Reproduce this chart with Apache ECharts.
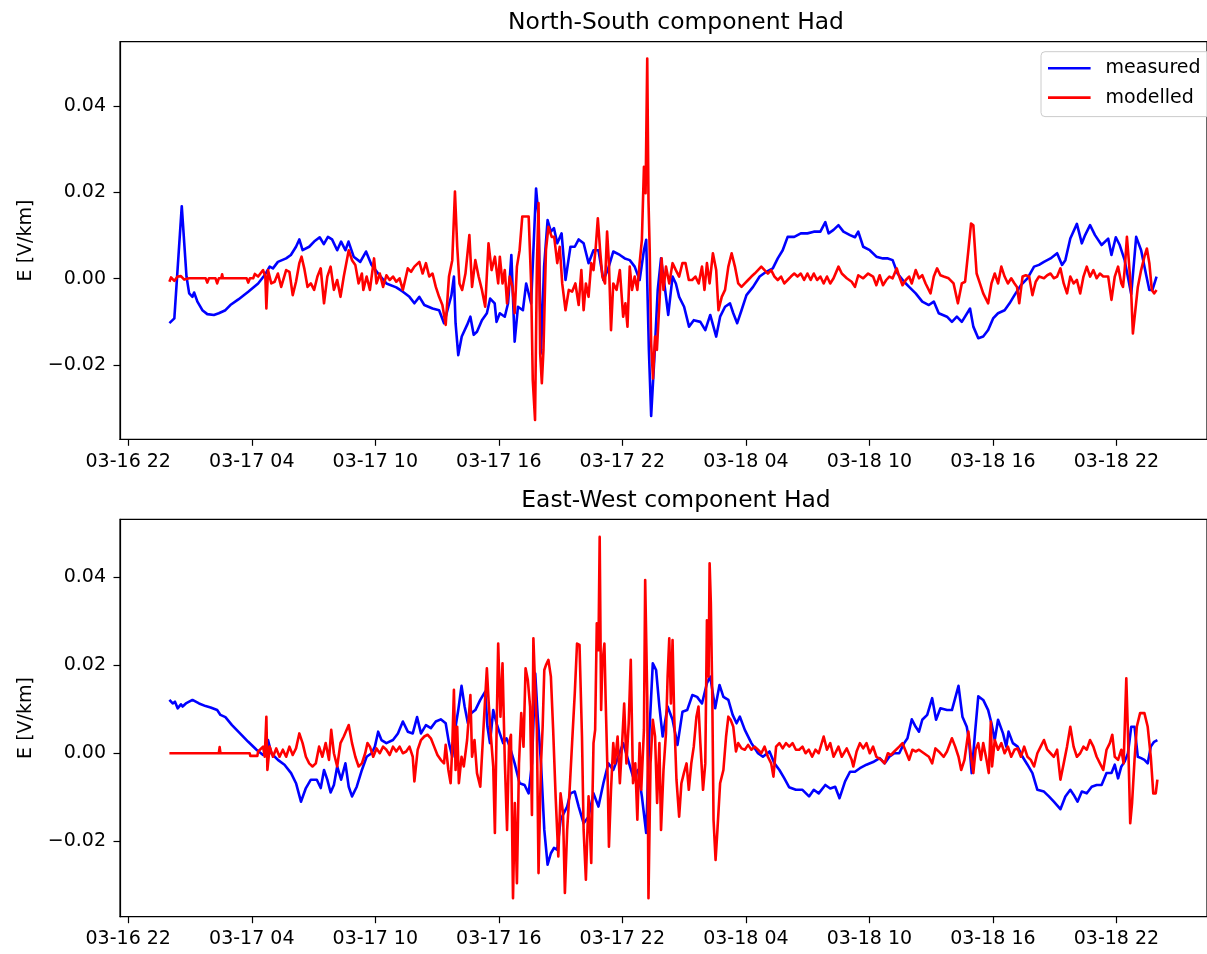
<!DOCTYPE html>
<html>
<head>
<meta charset="utf-8">
<script src="https://cdn.jsdelivr.net/npm/echarts@6/dist/echarts.min.js"></script>
<style>html,body{margin:0;padding:0;background:#fff}#c{width:1207px;height:954px}</style>
</head>
<body>
<div id="c"></div>
<script>
// time = hours since 03-17 00:00, values in mV/km
const xTickHours = [-2, 4, 10, 16, 22, 28, 34, 40, 46];
const xTickLabels = ['03-16 22','03-17 04','03-17 10','03-17 16','03-17 22','03-18 04','03-18 10','03-18 16','03-18 22'];
const yTicks = [-0.02, 0, 0.02, 0.04];

const nsMeasured = [[0,-10.3],[0.24,-9.2],[0.32,-9.0],[0.6,16.8],[0.83,0.5],[0.96,-3.4],[1.12,-4.2],[1.2,-3.2],[1.36,-5.3],[1.6,-7.3],[1.84,-8.2],[2.16,-8.4],[2.4,-8.0],[2.72,-7.3],[2.96,-6.1],[3.35,-4.8],[3.83,-3.0],[4.31,-1.1],[4.63,0.85],[4.87,2.8],[5.03,2.4],[5.27,3.9],[5.67,4.7],[5.9,5.5],[6.15,7.4],[6.31,9.1],[6.47,6.6],[6.79,7.4],[7.03,8.6],[7.3,9.6],[7.5,8.0],[7.7,9.7],[7.9,9.1],[8.15,6.6],[8.34,8.6],[8.55,6.6],[8.7,8.6],[8.95,5.1],[9.27,3.9],[9.55,6.3],[9.82,3.2],[10.14,1.2],[10.54,-1.1],[11.02,-2.0],[11.34,-3.0],[11.66,-4.2],[11.9,-5.7],[12.14,-4.2],[12.38,-6.1],[12.78,-6.9],[13.1,-7.3],[13.34,-10.3],[13.55,-6.5],[13.7,-3.8],[13.82,0.5],[13.9,-10.3],[14.03,-17.7],[14.2,-13.4],[14.46,-10.7],[14.62,-8.8],[14.78,-13.0],[14.94,-12.3],[15.18,-9.6],[15.42,-8.0],[15.58,-4.6],[15.8,-5.7],[15.89,-10],[16.05,-8.0],[16.29,-8.8],[16.45,-5.7],[16.61,5.5],[16.77,-14.6],[16.93,-6.5],[17.17,-7.3],[17.33,-1.1],[17.57,-5.7],[17.81,20.9],[17.93,14.4],[18.05,-17.3],[18.2,2.8],[18.37,13.6],[18.53,10.9],[18.68,11.7],[18.84,8.2],[19.05,10.5],[19.24,-0.3],[19.48,7.4],[19.69,7.4],[19.88,9.1],[20.12,8.2],[20.36,3.6],[20.6,6.6],[20.84,6.6],[21.08,-0.3],[21.29,2.0],[21.56,6.3],[21.88,5.5],[22.12,4.7],[22.36,4.3],[22.6,2.8],[22.84,-0.3],[23.05,6.6],[23.16,9.0],[23.29,-16.5],[23.4,-31.8],[23.56,-18],[23.72,-2.6],[23.88,4.7],[24.04,-1.1],[24.23,-8.4],[24.44,0.5],[24.6,-1.1],[24.76,-4.2],[25.0,-6.5],[25.24,-11.1],[25.47,-9.6],[25.79,-10],[26.03,-11.9],[26.27,-8.4],[26.56,-13.4],[26.75,-8.8],[26.99,-6.5],[27.23,-5.7],[27.39,-8.0],[27.58,-10.3],[27.79,-7.3],[28.03,-3.8],[28.35,-1.9],[28.67,0.5],[28.99,1.6],[29.31,2.4],[29.55,4.7],[29.79,6.6],[30.03,9.7],[30.35,9.7],[30.67,10.5],[30.99,10.5],[31.3,10.9],[31.62,10.9],[31.86,13.1],[32.02,10.5],[32.26,11.3],[32.5,12.4],[32.74,10.9],[33.06,10.1],[33.3,9.6],[33.46,10.9],[33.7,7.4],[34.02,6.6],[34.34,5.1],[34.66,4.7],[34.9,4.7],[35.13,4.3],[35.37,1.2],[35.69,-0.7],[35.93,-1.9],[36.25,-3.4],[36.57,-5.3],[36.89,-6.1],[37.13,-5.3],[37.37,-8.0],[37.77,-8.8],[38.01,-10.0],[38.25,-8.8],[38.49,-10.0],[38.89,-6.9],[39.05,-11.1],[39.29,-13.8],[39.53,-13.4],[39.77,-11.9],[40.01,-9.2],[40.25,-8.0],[40.57,-7.3],[40.81,-5.7],[41.05,-3.8],[41.36,-1.5],[41.68,0.1],[42.0,2.8],[42.24,3.2],[42.48,3.9],[42.8,4.7],[43.12,5.9],[43.36,3.2],[43.52,4.3],[43.76,9.3],[44.08,12.7],[44.32,8.2],[44.48,10.1],[44.72,12.4],[44.96,10.1],[45.28,7.8],[45.6,9.3],[45.76,5.5],[45.97,9.6],[46.16,7.8],[46.4,4.3],[46.72,-3.6],[46.96,9.7],[47.2,6.6],[47.44,1.0],[47.6,-2.6],[47.75,-2.6],[47.95,0.5]];

const nsModelled = [[0,-0.7],[0.08,0.3],[0.24,-0.5],[0.4,0.5],[0.56,0.6],[0.72,-0.2],[0.96,0.1],[1.76,0.1],[1.84,-0.9],[1.92,0.1],[2.24,0.1],[2.32,-1.1],[2.4,0.1],[2.52,0.1],[2.56,1.0],[2.6,0.1],[3.75,0.1],[3.83,-0.9],[3.91,0.1],[4.07,0.1],[4.15,1.1],[4.31,0.5],[4.55,2.0],[4.66,0.5],[4.71,-6.9],[4.79,2.0],[4.95,-1.1],[5.11,-0.7],[5.27,1.2],[5.43,-1.9],[5.67,2.0],[5.83,1.6],[5.99,-3.8],[6.15,-0.7],[6.31,3.6],[6.42,5.1],[6.55,2.4],[6.71,-1.9],[6.87,-1.1],[7.03,-2.6],[7.19,0.5],[7.35,2.4],[7.51,-5.7],[7.67,0.5],[7.83,2.8],[7.99,-2.6],[8.15,-0.3],[8.31,-4.2],[8.47,0.5],[8.71,6.6],[8.87,4.3],[9.03,3.2],[9.19,-1.1],[9.35,1.2],[9.42,-2.6],[9.58,0.5],[9.74,-2.6],[9.94,4.7],[10.06,-1.1],[10.22,1.2],[10.38,-1.9],[10.54,0.8],[10.7,-0.3],[10.86,0.5],[11.02,-0.7],[11.18,0.1],[11.34,-2.6],[11.58,2.4],[11.74,1.6],[11.9,2.8],[12.14,3.9],[12.3,1.2],[12.46,3.6],[12.62,0.5],[12.78,1.2],[12.94,-1.9],[13.1,-4.2],[13.26,-6.1],[13.42,-10.7],[13.58,0.5],[13.74,4.3],[13.87,20.2],[13.98,7.4],[14.09,-1.1],[14.22,-2.6],[14.38,1.2],[14.57,10.1],[14.7,-1.9],[14.86,4.3],[15.02,0.5],[15.18,-2.6],[15.34,-6.5],[15.5,8.2],[15.65,2.0],[15.81,5.1],[15.97,-1.1],[16.05,5.1],[16.18,-1.1],[16.29,2.0],[16.4,-5.7],[16.53,0.5],[16.66,-1.9],[16.77,-8.0],[16.88,2.8],[17.01,6.6],[17.14,14.4],[17.45,14.4],[17.57,-1.1],[17.65,-23.5],[17.76,-32.7],[17.85,2.8],[17.93,17.5],[18.01,-17.3],[18.09,-24.2],[18.17,-16.5],[18.29,6.6],[18.41,12.0],[18.57,9.7],[18.69,9.7],[18.84,3.6],[18.96,7.4],[19.08,-1.1],[19.24,-7.3],[19.4,-2.6],[19.56,-3.0],[19.72,-1.1],[19.88,-6.1],[20.01,2.0],[20.12,-7.3],[20.23,-1.1],[20.36,-4.2],[20.49,3.6],[20.6,2.0],[20.71,7.4],[20.81,14.0],[20.92,6.6],[21.03,0.5],[21.16,-1.1],[21.26,10.9],[21.35,3.6],[21.45,-11.9],[21.56,-1.1],[21.72,-2.6],[21.88,2.0],[22.04,-8.8],[22.15,-5.7],[22.25,-11.1],[22.36,2.8],[22.47,-2.6],[22.6,0.5],[22.73,-2.6],[22.84,3.6],[22.95,9.0],[23.05,25.9],[23.13,19.8],[23.21,51.0],[23.27,18.2],[23.33,6.6],[23.4,-15.0],[23.49,-23.1],[23.59,-13.4],[23.68,-16.5],[23.8,-5.7],[23.91,4.7],[24.0,-2.6],[24.12,2.8],[24.28,-1.1],[24.44,3.6],[24.6,2.0],[24.76,0.5],[24.92,3.6],[25.07,3.6],[25.23,-0.3],[25.39,-0.3],[25.55,0.5],[25.71,-1.1],[25.87,2.8],[25.99,-2.6],[26.11,3.6],[26.24,-1.1],[26.4,5.9],[26.56,2.0],[26.67,-7.3],[26.83,-4.2],[26.99,-2.6],[27.15,2.8],[27.31,5.9],[27.47,2.8],[27.63,-1.1],[27.79,-1.9],[27.95,-1.1],[28.11,-0.3],[28.27,0.5],[28.43,1.2],[28.59,2.0],[28.75,2.8],[28.91,2.0],[29.07,1.2],[29.23,2.0],[29.39,0.5],[29.55,-0.3],[29.71,0.5],[29.87,-1.1],[30.03,-0.3],[30.19,0.5],[30.35,1.2],[30.51,0.5],[30.67,1.2],[30.83,-0.3],[30.99,1.2],[31.15,-0.3],[31.3,1.2],[31.46,-0.3],[31.62,0.5],[31.78,-1.1],[31.94,0.5],[32.1,-1.1],[32.26,0.1],[32.5,2.8],[32.66,1.2],[32.9,0.1],[33.14,-0.7],[33.3,-1.9],[33.46,0.8],[33.7,0.1],[33.94,1.2],[34.18,0.5],[34.34,-1.5],[34.5,0.8],[34.66,-1.5],[34.82,-0.3],[34.97,0.5],[35.13,0.1],[35.33,2.4],[35.45,0.5],[35.61,-1.5],[35.77,-0.3],[35.93,0.5],[36.06,-1.1],[36.25,2.0],[36.41,0.1],[36.57,0.8],[36.73,-1.1],[36.97,-3.4],[37.13,0.5],[37.29,2.4],[37.45,0.8],[37.61,0.5],[37.85,0.1],[38.09,-1.1],[38.3,-5.7],[38.49,-1.1],[38.65,-0.7],[38.81,6.6],[38.94,12.8],[39.05,12.4],[39.21,1.2],[39.37,-1.1],[39.53,-3.4],[39.77,-5.7],[39.93,-1.1],[40.09,1.2],[40.25,-1.1],[40.41,2.8],[40.57,0.5],[40.73,-1.1],[40.89,0.1],[41.05,-1.1],[41.17,-1.9],[41.28,-5.7],[41.44,0.5],[41.6,0.8],[41.76,0.5],[41.92,-3.8],[42.08,-0.7],[42.24,0.5],[42.48,0.1],[42.64,0.8],[42.8,1.2],[42.96,0.1],[43.12,0.5],[43.28,2.4],[43.44,-1.1],[43.6,-3.4],[43.76,0.5],[43.92,-1.1],[44.08,-0.3],[44.24,-3.4],[44.4,0.5],[44.56,2.8],[44.72,0.5],[44.88,2.0],[45.04,0.1],[45.2,1.2],[45.36,0.5],[45.6,0.5],[45.76,-4.9],[45.92,0.5],[46.08,2.8],[46.24,-1.1],[46.32,-1.9],[46.4,2.0],[46.51,9.7],[46.6,4.3],[46.72,-3.4],[46.8,-12.7],[46.92,-7.3],[47.04,-1.9],[47.2,2.0],[47.36,5.1],[47.48,7.0],[47.6,3.6],[47.72,-2.6],[47.83,-3.4],[47.95,-2.6]];

const ewMeasured = [[0,12.1],[0.16,11.3],[0.27,11.7],[0.4,10.2],[0.56,11.1],[0.64,10.6],[0.8,11.3],[1.12,12.1],[1.44,11.3],[1.76,10.7],[2.0,10.4],[2.32,9.8],[2.48,8.7],[2.72,8.2],[3.04,6.4],[3.43,4.5],[3.83,2.6],[4.23,0.8],[4.55,-0.4],[4.71,0.3],[4.79,3.0],[4.95,0.0],[5.27,-1.5],[5.59,-2.6],[5.91,-4.5],[6.15,-6.8],[6.39,-11.0],[6.63,-7.9],[6.87,-6.0],[7.16,-6.0],[7.35,-7.9],[7.51,-3.8],[7.67,-6.0],[7.83,-8.9],[7.99,-7.2],[8.15,-3.0],[8.34,-6.0],[8.55,-2.3],[8.71,-7.6],[8.87,-9.8],[9.1,-7.6],[9.35,-3.8],[9.58,-0.8],[9.82,0],[9.98,1.5],[10.14,4.9],[10.3,3.0],[10.54,2.3],[10.86,3.0],[11.1,4.5],[11.34,7.2],[11.58,4.9],[11.82,4.5],[12.03,8.2],[12.22,4.5],[12.46,6.4],[12.7,5.7],[12.94,7.2],[13.18,7.7],[13.42,6.8],[13.58,2.3],[13.74,-0.8],[13.9,6.0],[14.03,9.8],[14.19,15.3],[14.34,10.6],[14.5,6.8],[14.66,9.1],[14.86,9.8],[15.1,12.1],[15.34,14.0],[15.45,6.0],[15.57,2.3],[15.73,9.8],[15.89,6.8],[16.05,4.5],[16.21,2.3],[16.37,3.4],[16.53,1.5],[16.77,-2.3],[17.01,-6.8],[17.25,-7.2],[17.45,-9.1],[17.61,-2.3],[17.77,18.1],[17.89,8.3],[18.05,-2.3],[18.21,-17.4],[18.37,-25.3],[18.53,-22.7],[18.68,-21.5],[18.84,-21.9],[19.0,-15.1],[19.16,-13.6],[19.32,-12.1],[19.48,-9.1],[19.69,-8.7],[19.88,-12.1],[20.12,-15.9],[20.36,-14.4],[20.6,-9.1],[20.84,-12.1],[21.08,-6.8],[21.32,-2.3],[21.56,-3.8],[21.8,-0.8],[22.04,2.3],[22.28,-1.5],[22.52,-5.3],[22.76,-3.8],[22.95,-9.8],[23.16,-18.1],[23.32,5.3],[23.48,20.4],[23.64,18.9],[23.8,10.6],[23.96,3.8],[24.2,10.6],[24.44,7.6],[24.68,1.9],[24.92,9.4],[25.15,9.8],[25.4,13.2],[25.63,12.8],[25.87,11.3],[26.11,15.9],[26.27,17.4],[26.51,10.2],[26.72,15.5],[26.91,12.8],[27.15,12.1],[27.36,8.7],[27.55,6.8],[27.71,8.3],[27.95,5.3],[28.27,2.3],[28.59,0],[28.83,-0.8],[29.15,0.4],[29.39,-2.3],[29.63,-3.8],[29.87,-5.7],[30.1,-7.7],[30.43,-8.3],[30.75,-8.3],[31.07,-9.8],[31.3,-8.3],[31.54,-9.1],[31.86,-7.2],[32.1,-8.0],[32.34,-7.6],[32.55,-10.2],[32.82,-6.4],[33.06,-4.2],[33.3,-4.2],[33.54,-3.4],[33.86,-2.6],[34.18,-2.0],[34.5,-1.1],[34.74,-2.3],[34.97,-0.8],[35.21,0],[35.45,0],[35.69,2.3],[35.85,3.4],[36.06,7.7],[36.25,6.0],[36.41,4.9],[36.57,7.6],[36.81,8.7],[37.05,12.5],[37.24,7.6],[37.45,10.2],[37.77,9.8],[38.01,9.8],[38.33,15.3],[38.52,8.3],[38.73,6.0],[38.84,3.0],[38.97,-4.5],[39.13,4.5],[39.29,12.9],[39.53,12.1],[39.77,9.8],[39.93,6.8],[40.09,3.0],[40.25,7.6],[40.49,4.5],[40.65,1.5],[40.76,4.9],[40.97,2.3],[41.2,1.5],[41.44,-0.8],[41.68,-2.6],[41.92,-4.5],[42.16,-8.3],[42.48,-8.7],[42.72,-9.8],[42.96,-11.0],[43.28,-12.7],[43.52,-9.8],[43.76,-8.3],[43.92,-9.4],[44.11,-11.0],[44.32,-8.7],[44.56,-9.1],[44.8,-7.6],[45.04,-7.2],[45.28,-7.2],[45.52,-4.5],[45.76,-4.5],[45.92,-2.6],[46.08,-5.7],[46.24,-3.0],[46.4,-1.9],[46.56,0],[46.72,6.0],[46.88,6.0],[47.04,-0.8],[47.2,-1.1],[47.36,-1.5],[47.52,-2.3],[47.67,1.5],[47.83,2.6],[47.99,3.0]];

const ewModelled = [[0,0],[2.4,0],[2.44,1.4],[2.48,0],[3.9,0],[3.93,-0.6],[4.27,-0.6],[4.31,0.4],[4.55,1.5],[4.63,-0.8],[4.71,8.3],[4.76,-3.8],[4.87,1.5],[5.03,-0.8],[5.19,1.1],[5.35,-0.8],[5.51,0.8],[5.67,-0.8],[5.83,1.5],[5.99,-0.4],[6.15,1.1],[6.31,4.5],[6.47,2.3],[6.63,-0.8],[6.79,-2.3],[6.95,-3.0],[7.11,-2.3],[7.27,1.5],[7.43,-0.8],[7.59,2.3],[7.75,-1.5],[7.86,5.3],[7.99,0],[8.15,-3.0],[8.31,2.3],[8.47,3.8],[8.71,6.4],[8.87,2.3],[9.03,-0.8],[9.19,-3.0],[9.35,-2.3],[9.51,0],[9.62,2.3],[9.74,1.5],[9.9,-0.8],[10.06,1.1],[10.22,0],[10.38,1.5],[10.54,0.8],[10.7,-0.4],[10.86,1.5],[11.02,0.4],[11.18,1.5],[11.34,0],[11.5,0.4],[11.66,1.5],[11.82,-0.8],[11.9,-6.4],[12.06,0.8],[12.22,3.0],[12.38,3.8],[12.54,4.2],[12.7,3.4],[12.86,1.5],[13.02,-0.4],[13.18,-1.5],[13.34,-2.3],[13.42,1.9],[13.55,-3.8],[13.66,-6.8],[13.74,1.5],[13.82,14.4],[13.9,-3.8],[13.98,6.0],[14.06,-6.8],[14.19,-0.8],[14.3,-3.0],[14.46,3.0],[14.62,13.2],[14.7,-0.8],[14.82,3.0],[14.94,-4.5],[15.1,-7.6],[15.26,6.0],[15.42,19.3],[15.5,12.1],[15.58,6.0],[15.73,-3.0],[15.81,-18.1],[15.89,4.5],[15.97,24.9],[16.08,8.3],[16.18,20.4],[16.29,-1.5],[16.4,-17.4],[16.5,2.3],[16.59,4.2],[16.69,-32.9],[16.78,-11.3],[16.88,-29.5],[16.98,-2.3],[17.09,9.1],[17.2,1.5],[17.3,19.3],[17.41,16.6],[17.52,10.6],[17.61,-14.0],[17.68,26.1],[17.77,14.4],[17.85,5.3],[17.93,-27.2],[18.05,-2.3],[18.13,6.0],[18.21,18.9],[18.29,20.0],[18.41,21.2],[18.53,17.4],[18.64,5.3],[18.76,-9.8],[18.89,-23.4],[19.0,-9.1],[19.12,-13.6],[19.21,-31.7],[19.32,-17.4],[19.44,-8.3],[19.56,2.3],[19.69,13.6],[19.8,24.9],[19.92,24.6],[20.04,3.8],[20.12,-17.4],[20.23,-28.7],[20.36,-9.8],[20.49,-24.9],[20.6,2.3],[20.68,5.3],[20.76,29.5],[20.84,23.4],[20.9,49.1],[20.97,9.8],[21.03,20.4],[21.13,24.9],[21.19,12.1],[21.29,-6.0],[21.35,-21.2],[21.45,-8.3],[21.56,2.3],[21.64,-2.3],[21.77,3.8],[21.88,-6.8],[21.99,2.3],[22.09,11.3],[22.2,-2.3],[22.31,6.8],[22.41,21.2],[22.52,-6.8],[22.63,-2.3],[22.73,-15.1],[22.84,2.3],[22.92,-8.3],[23.05,5.3],[23.11,39.3],[23.21,12.8],[23.27,-32.9],[23.37,-2.3],[23.48,7.6],[23.59,3.8],[23.69,-11.3],[23.8,2.3],[23.88,-17.4],[24.0,-3.8],[24.12,4.5],[24.2,17.4],[24.28,26.1],[24.36,11.3],[24.44,25.7],[24.52,8.3],[24.63,-6.0],[24.76,-14.4],[24.87,-6.8],[24.99,-4.5],[25.12,-2.3],[25.23,-8.3],[25.35,-2.3],[25.47,1.5],[25.6,8.3],[25.7,10.6],[25.79,2.3],[25.92,-8.3],[26.03,-2.3],[26.11,30.2],[26.19,17.4],[26.24,43.1],[26.3,34.0],[26.37,12.8],[26.43,-15.1],[26.53,-24.2],[26.62,-17.4],[26.75,-6.8],[26.91,-3.8],[27.04,3.8],[27.15,8.3],[27.26,7.6],[27.39,6.0],[27.52,0.4],[27.63,2.3],[27.79,1.1],[27.95,0.8],[28.11,1.9],[28.27,0.8],[28.43,1.5],[28.59,0.8],[28.75,0],[28.91,1.5],[29.07,-0.8],[29.23,-2.3],[29.34,-5.3],[29.47,1.5],[29.63,2.3],[29.79,1.1],[29.95,2.3],[30.11,1.5],[30.27,2.3],[30.43,0.8],[30.59,0.8],[30.75,1.5],[30.9,0],[31.06,0.8],[31.22,-0.8],[31.38,0.8],[31.54,0],[31.62,0],[31.78,3.8],[31.94,0.8],[32.1,2.3],[32.26,-0.8],[32.5,1.5],[32.66,-0.8],[32.9,1.1],[33.14,-1.5],[33.22,-3.0],[33.38,0.4],[33.54,2.3],[33.7,1.1],[33.86,2.3],[34.02,0],[34.18,1.5],[34.34,-0.8],[34.58,-1.5],[34.74,-2.3],[34.9,0],[35.05,-0.4],[35.21,0.4],[35.45,1.5],[35.61,2.3],[35.77,0.4],[35.93,-1.5],[36.09,0.8],[36.25,0.4],[36.41,0.8],[36.65,0],[36.89,-0.8],[37.05,-2.3],[37.21,1.1],[37.37,0.4],[37.61,-0.8],[37.77,0.4],[38.01,3.4],[38.17,1.5],[38.33,-0.8],[38.46,-3.8],[38.62,-1.5],[38.81,4.9],[38.94,-0.8],[39.05,-4.5],[39.16,0.8],[39.29,2.3],[39.42,-1.5],[39.53,2.3],[39.69,-1.5],[39.8,-4.5],[39.9,7.2],[39.96,-3.0],[40.09,3.0],[40.25,0.8],[40.41,2.3],[40.57,0],[40.73,1.5],[40.89,-0.8],[41.05,0.8],[41.2,1.1],[41.36,-0.8],[41.52,1.5],[41.68,-0.8],[41.84,-1.5],[42.0,-3.0],[42.16,0],[42.32,1.5],[42.48,3.0],[42.64,0.8],[42.8,0],[42.96,-0.8],[43.12,0.8],[43.28,-6.0],[43.44,-2.3],[43.6,1.5],[43.76,6.0],[43.92,1.5],[44.08,-0.8],[44.24,0],[44.4,1.5],[44.56,0.8],[44.72,3.0],[44.88,1.5],[45.04,-0.8],[45.2,-2.3],[45.36,-3.8],[45.52,0.8],[45.68,2.3],[45.8,4.2],[45.92,-0.8],[46.08,-1.5],[46.24,0.8],[46.35,-2.3],[46.48,17.0],[46.57,3.0],[46.67,-15.9],[46.76,-11.3],[46.88,-1.5],[46.99,6.0],[47.15,9.1],[47.36,9.1],[47.52,6.0],[47.67,-0.8],[47.79,-9.1],[47.91,-9.1],[47.99,-6.0]];

const toV = arr => arr.map(p => [p[0], p[1] / 1000]);

const FONT = 'DejaVu Sans';
const LW = 2.6;
const chart = echarts.init(document.getElementById('c'), null, {renderer: 'canvas'});

function xAxisCfg(gi) {
  return {
    type: 'value', gridIndex: gi, min: -2.4, max: 50.4,
    splitLine: {show: false},
    axisLine: {show: true, onZero: false, lineStyle: {color: '#000', width: 1.2}},
    axisTick: {show: true, length: 6.5, lineStyle: {color: '#000', width: 1.2}, customValues: xTickHours},
    axisLabel: {
      customValues: xTickHours, margin: 13, color: '#000', fontFamily: FONT, fontSize: 19,
      formatter: v => { const i = xTickHours.indexOf(Math.round(v)); return i >= 0 ? xTickLabels[i] : ''; }
    }
  };
}
function yAxisCfg(gi, mn, mx) {
  return {
    type: 'value', gridIndex: gi, min: mn, max: mx,
    name: 'E [V/km]', nameLocation: 'middle', nameGap: 84,
    nameTextStyle: {color: '#000', fontFamily: FONT, fontSize: 19},
    splitLine: {show: false},
    axisLine: {show: true, onZero: false, lineStyle: {color: '#000', width: 1.2}},
    axisTick: {show: true, length: 6.5, lineStyle: {color: '#000', width: 1.2}, customValues: yTicks},
    axisLabel: {
      customValues: yTicks, margin: 14, color: '#000', fontFamily: FONT, fontSize: 19,
      formatter: v => (Math.abs(v) < 1e-9 ? '0.00' : (v < 0 ? '\u22120' : '0') + Math.abs(v).toFixed(2).slice(1))
    }
  };
}
function lineSeries(name, data, color, gi) {
  return {
    name, type: 'line', xAxisIndex: gi, yAxisIndex: gi, data: toV(data),
    symbol: 'none', showSymbol: false, smooth: false, sampling: null,
    lineStyle: {color, width: LW, join: 'round'}, itemStyle: {color}, z: name === 'modelled' ? 3 : 2
  };
}

chart.setOption({
  animation: false,
  backgroundColor: '#fff',
  title: [
    {text: 'North-South component Had', left: 671, top: 6, textAlign: 'center',
     textStyle: {fontFamily: FONT, fontSize: 23.4, fontWeight: 'normal', color: '#000'}},
    {text: 'East-West component Had', left: 671, top: 484, textAlign: 'center',
     textStyle: {fontFamily: FONT, fontSize: 23.4, fontWeight: 'normal', color: '#000'}}
  ],
  legend: {
    data: ['measured', 'modelled'], orient: 'vertical', left: 1041, top: 51.7,
    itemWidth: 42.6, itemHeight: 19, itemGap: 10.4,
    padding: [7, 12, 9.5, 5.7],
    itemStyle: {opacity: 0},
    lineStyle: {width: LW},
    backgroundColor: 'rgba(255,255,255,0.8)', borderColor: '#cccccc', borderWidth: 1, borderRadius: 4,
    textStyle: {fontFamily: FONT, fontSize: 19, color: '#000', padding: [0, 0, 0, 10]}
  },
  grid: [
    {left: 120, top: 41.7, width: 1101.8, height: 397.6, show: true, borderColor: '#000', borderWidth: 1.2, backgroundColor: 'transparent'},
    {left: 120, top: 519.3, width: 1101.8, height: 397.4, show: true, borderColor: '#000', borderWidth: 1.2, backgroundColor: 'transparent'}
  ],
  xAxis: [xAxisCfg(0), xAxisCfg(1)],
  yAxis: [yAxisCfg(0, -0.0372, 0.0549), yAxisCfg(1, -0.0371, 0.0531)],
  series: [
    lineSeries('measured', nsMeasured, '#0000ff', 0),
    lineSeries('modelled', nsModelled, '#ff0000', 0),
    lineSeries('measured', ewMeasured, '#0000ff', 1),
    lineSeries('modelled', ewModelled, '#ff0000', 1)
  ]
});
</script>
</body>
</html>
